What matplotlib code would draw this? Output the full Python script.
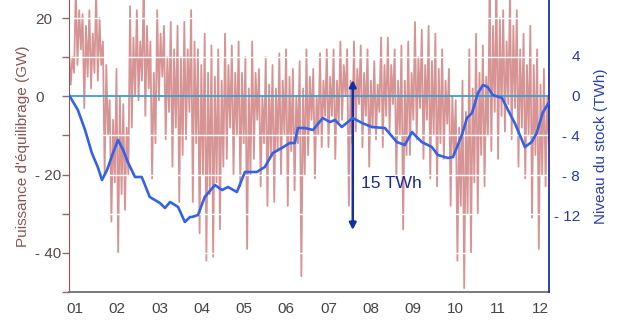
import numpy as np
import matplotlib
matplotlib.use("Agg")
import matplotlib.pyplot as plt

plt.rcParams['font.family'] = ['Liberation Sans', 'DejaVu Sans']

# mois (01..12), positions des étiquettes
mois_labels = ['01', '02', '03', '04', '05', '06', '07', '08', '09', '10', '11', '12']

# puissance d'équilibrage (GW), extrêmes successifs
equilibrage_gw = [
    12, 3, 10, 6,  28, 8, 22, 12,  21, -3, 18, 5,  22, 2, 16, 6,
    27, 4, 20, 8,  14, -20, 8, -10,  -1, -32, -6, -22,  7, -40, 0, -25,
    -2, -29, -8, -20,  23, -8, 15, 0,  22, -1, 14, 4,  27, -5, 18, 2,
    14, -21, 6, -12,  22, -1, 16, 5,  18, -11, 10, -4,  19, -18, 12, -8,
    18, -27, 10, -15,  19, -11, 12, -4,  22, -27, 14, -12,
    12, -35, 8, -20,  16, -42, 6, -25,  13, -41, 5, -22,  12, -34, 4, -18,
    16, -16, 8, -8,  13, -20, 6, -10,  14, -23, 6, -12,  10, -39, 2, -20,
    14, -16, 6, -6,  7, -23, 0, -12,  10, -28, 3, -15,  8, -27, 2, -14,
    11, -20, 4, -10,  12, -28, 5, -14,  7, -24, 0, -12,  9, -46, 2, -20,
    12, -15, 5, -6,
    7, -21, 0, -10,  11, -13, 4, -5,  12, -13, 5, -5,  12, -16, 4, -7,
    14, -6, 8, 0,  12, -28, 4, -12,  14, -9, 7, -2,  13, -13, 6, -5,
    12, -18, 4, -8,  9, -11, 3, -4,  15, -13, 8, -5,  15, -9, 8, -2,
    12, -21, 4, -10,  13, -34, 4, -15,  14, -15, 6, -6,  19, -11, 10, -3,
    17, -16, 8, -6,
    18, -21, 9, -10,  16, -23, 7, -12,  12, -16, 4, -7,  7, -28, 0, -15,
    -1, -42, -8, -28,  4, -49, -4, -30,  12, -40, 2, -22,  16, -30, 6, -15,
    13, -23, 5, -10,  27, -14, 18, -4,  28, -16, 20, -5,  22, -9, 14, -2,
    27, -11, 18, -3,  22, -18, 12, -8,  16, -21, 8, -10,  18, -31, 8, -15,
    12, -39, 3, -20,  7, -23, 0, -12,
]

# niveau du stock (TWh)
mois_stock = [
    -0.14, 0.07, 0.24, 0.40, 0.54, 0.64, 0.76, 0.90, 1.02, 1.14, 1.25, 1.42,
    1.58, 1.77, 2.01, 2.13, 2.25, 2.44, 2.60, 2.72, 2.77, 2.91, 3.07, 3.31,
    3.48, 3.62, 3.83, 4.02, 4.30, 4.49, 4.68, 4.89, 5.08, 5.20, 5.27, 5.44,
    5.63, 5.86, 6.03, 6.15, 6.31, 6.57, 6.79, 7.02, 7.33, 7.61, 7.80, 7.97,
    8.20, 8.44, 8.58, 8.82, 8.94, 9.15, 9.27, 9.39, 9.53, 9.65, 9.76, 9.88,
    10.10, 10.24, 10.40, 10.64, 10.80, 10.92, 11.06, 11.21,
]
stock_twh = [
    0.0, -1.5, -3.5, -5.8, -7.2, -8.5, -7.5, -5.8, -4.5, -5.5, -6.7, -8.2,
    -8.2, -10.2, -10.8, -11.3, -10.7, -11.2, -12.7, -12.2, -12.2, -12.0, -10.2, -9.0,
    -9.5, -9.2, -9.7, -7.7, -7.7, -7.2, -5.8, -5.3, -4.8, -4.8, -3.3, -3.3,
    -3.5, -2.3, -2.7, -2.5, -3.2, -2.3, -2.8, -3.2, -3.3, -4.7, -5.0, -3.7,
    -4.7, -5.2, -6.0, -6.3, -6.2, -4.0, -2.3, -1.8, 0.2, 1.0, 0.8, 0.0,
    -0.3, -1.5, -2.8, -5.2, -4.7, -3.8, -1.8, -0.7,
]

fleche_mois = 6.57
fleche_haut, fleche_bas = 1.5, -13.5

x_min, x_max = -0.14, 11.21

fig = plt.figure(figsize=(6.25, 3.3), dpi=100)
ax = fig.add_axes([69 / 625, 1 - 292 / 330, 480 / 625, 292 / 330])
ax2 = ax.twinx()

heures = np.linspace(x_min, x_max, len(equilibrage_gw))
ax.plot(heures, equilibrage_gw, color='#d69494', lw=1.3, zorder=1)
for g in [20, 10, -10, -20, -30, -40]:
    ax.axhline(g, color='white', lw=1.0, zorder=2)
ax.axhline(0, color='#3aa0d0', lw=1.3, zorder=3)

ax.set_xlim(x_min, x_max)
ax.set_ylim(-50, 24.6)
ax.set_xticks(range(12))
ax.set_xticklabels(mois_labels)
ax.tick_params(axis='x', length=0, pad=7, labelsize=11, labelcolor='#444444')

ax.set_yticks([20, 0, -20, -40])
ax.set_yticklabels(['20', '0', '- 20', '- 40'])
ax.set_yticks([10, -10, -30, -50], minor=True)
ax.tick_params(axis='y', which='both', length=5, color='#8a6a6a', width=1)
ax.tick_params(axis='y', which='major', pad=19.5, labelsize=11, labelcolor='#5a4848')
for t in ax.get_yticklabels():
    t.set_horizontalalignment('left')
ax.set_ylabel("Puissance d'équilibrage (GW)", color='#8b5555', fontsize=11)
ax.yaxis.set_label_coords(-0.082, 0.5)

ax.spines['top'].set_visible(False)
ax.spines['right'].set_visible(False)
ax.spines['left'].set_color('#8a5a5a')
ax.spines['bottom'].set_color('#707070')
ax.spines['bottom'].set_linewidth(1.3)

ax2.plot(mois_stock, stock_twh, color='#3462e6', lw=1.9, zorder=5)
ax2.annotate('', xy=(fleche_mois, fleche_bas), xytext=(fleche_mois, fleche_haut),
             arrowprops=dict(arrowstyle='<|-|>', color='#1430a0', lw=1.8,
                             mutation_scale=10, shrinkA=0, shrinkB=0))
ax2.text(fleche_mois + 0.19, -8.8, '15 TWh', color='#1a2aa0', fontsize=12.5,
         va='center', ha='left')

ax2.set_ylim(-19.7, 9.5)
ax2.set_yticks([4, 0, -4, -8, -12])
ax2.set_yticklabels(['4', '0', '- 4', '- 8', '- 12'])
ax2.tick_params(axis='y', length=0, pad=22.5, labelsize=11, labelcolor='#2a3a9a')
for t in ax2.get_yticklabels():
    t.set_horizontalalignment('right')
ax2.set_ylabel('Niveau du stock (TWh)', color='#2a40b0', fontsize=11)
ax2.yaxis.set_label_coords(1.094, 0.5)
ax2.spines['top'].set_visible(False)
ax2.spines['left'].set_visible(False)
ax2.spines['bottom'].set_visible(False)
ax2.spines['right'].set_color('#2030a0')
ax2.spines['right'].set_linewidth(1.3)

fig.savefig('out.png', dpi=100)
